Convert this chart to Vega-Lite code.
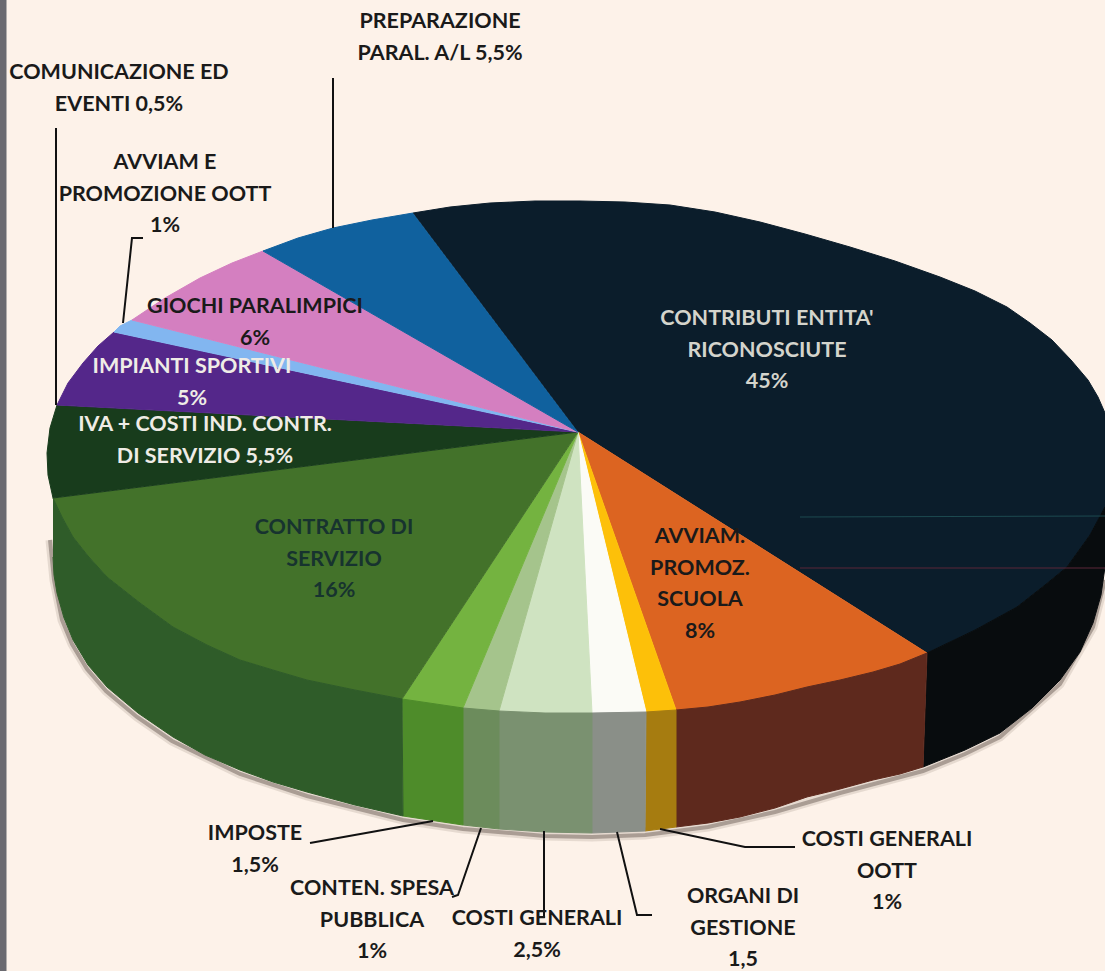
{
"$schema":"https://vega.github.io/schema/vega-lite/v6.json",
"width":1105,"height":971,"padding":0,"autosize":{"type":"none"},
"background":"#fdf2e9",
"view":{"stroke":null},
"datasets":{
"faces":[
{"part":"Bordo","order":1,"x":0,"y":0},{"part":"Bordo","order":2,"x":6,"y":0},{"part":"Bordo","order":3,"x":6,"y":971},{"part":"Bordo","order":4,"x":0,"y":971},
{"part":"Contributi","order":1,"x":578,"y":432},{"part":"Contributi","order":2,"x":413,"y":213},{"part":"Contributi","order":3,"x":450,"y":207},{"part":"Contributi","order":4,"x":490,"y":203},{"part":"Contributi","order":5,"x":535,"y":201},{"part":"Contributi","order":6,"x":580,"y":201},{"part":"Contributi","order":7,"x":625,"y":202},{"part":"Contributi","order":8,"x":670,"y":205},{"part":"Contributi","order":9,"x":715,"y":212},{"part":"Contributi","order":10,"x":760,"y":222},{"part":"Contributi","order":11,"x":805,"y":234},{"part":"Contributi","order":12,"x":850,"y":247},{"part":"Contributi","order":13,"x":895,"y":261},{"part":"Contributi","order":14,"x":940,"y":277},{"part":"Contributi","order":15,"x":975,"y":291},{"part":"Contributi","order":16,"x":1007,"y":307},{"part":"Contributi","order":17,"x":1030,"y":323},{"part":"Contributi","order":18,"x":1052,"y":340},{"part":"Contributi","order":19,"x":1071,"y":360},{"part":"Contributi","order":20,"x":1088,"y":380},{"part":"Contributi","order":21,"x":1098,"y":397},{"part":"Contributi","order":22,"x":1105,"y":413},{"part":"Contributi","order":23,"x":1105,"y":507},{"part":"Contributi","order":24,"x":1090,"y":535},{"part":"Contributi","order":25,"x":1067,"y":567},{"part":"Contributi","order":26,"x":1045,"y":585},{"part":"Contributi","order":27,"x":1017,"y":607},{"part":"Contributi","order":28,"x":975,"y":630},{"part":"Contributi","order":29,"x":927,"y":653},
{"part":"Avviam scuola","order":1,"x":578,"y":432},{"part":"Avviam scuola","order":2,"x":927,"y":653},{"part":"Avviam scuola","order":3,"x":900,"y":664},{"part":"Avviam scuola","order":4,"x":873,"y":672},{"part":"Avviam scuola","order":5,"x":840,"y":680},{"part":"Avviam scuola","order":6,"x":807,"y":687},{"part":"Avviam scuola","order":7,"x":775,"y":695},{"part":"Avviam scuola","order":8,"x":740,"y":702},{"part":"Avviam scuola","order":9,"x":708,"y":707},{"part":"Avviam scuola","order":10,"x":676,"y":710},
{"part":"Costi OOTT","order":1,"x":578,"y":432},{"part":"Costi OOTT","order":2,"x":676,"y":710},{"part":"Costi OOTT","order":3,"x":646,"y":712},
{"part":"Organi","order":1,"x":578,"y":432},{"part":"Organi","order":2,"x":646,"y":712},{"part":"Organi","order":3,"x":592,"y":713},
{"part":"Costi generali","order":1,"x":578,"y":432},{"part":"Costi generali","order":2,"x":592,"y":713},{"part":"Costi generali","order":3,"x":545,"y":713},{"part":"Costi generali","order":4,"x":499,"y":711},
{"part":"Conten","order":1,"x":578,"y":432},{"part":"Conten","order":2,"x":499,"y":711},{"part":"Conten","order":3,"x":463,"y":708},
{"part":"Imposte","order":1,"x":578,"y":432},{"part":"Imposte","order":2,"x":463,"y":708},{"part":"Imposte","order":3,"x":402,"y":699},
{"part":"Contratto","order":1,"x":578,"y":432},{"part":"Contratto","order":2,"x":402,"y":699},{"part":"Contratto","order":3,"x":355,"y":690},{"part":"Contratto","order":4,"x":307,"y":680},{"part":"Contratto","order":5,"x":273,"y":670},{"part":"Contratto","order":6,"x":240,"y":660},{"part":"Contratto","order":7,"x":207,"y":645},{"part":"Contratto","order":8,"x":173,"y":627},{"part":"Contratto","order":9,"x":140,"y":603},{"part":"Contratto","order":10,"x":107,"y":577},{"part":"Contratto","order":11,"x":88,"y":556},{"part":"Contratto","order":12,"x":73,"y":537},{"part":"Contratto","order":13,"x":62,"y":517},{"part":"Contratto","order":14,"x":53,"y":498},
{"part":"IVA","order":1,"x":578,"y":432},{"part":"IVA","order":2,"x":53,"y":498},{"part":"IVA","order":3,"x":48,"y":475},{"part":"IVA","order":4,"x":47,"y":453},{"part":"IVA","order":5,"x":50,"y":428},{"part":"IVA","order":6,"x":57,"y":405},
{"part":"Impianti","order":1,"x":578,"y":432},{"part":"Impianti","order":2,"x":57,"y":405},{"part":"Impianti","order":3,"x":68,"y":383},{"part":"Impianti","order":4,"x":83,"y":363},{"part":"Impianti","order":5,"x":98,"y":346},{"part":"Impianti","order":6,"x":114,"y":332},
{"part":"Avviam OOTT","order":1,"x":578,"y":432},{"part":"Avviam OOTT","order":2,"x":114,"y":332},{"part":"Avviam OOTT","order":3,"x":120,"y":326},{"part":"Avviam OOTT","order":4,"x":132,"y":320},
{"part":"Giochi","order":1,"x":578,"y":432},{"part":"Giochi","order":2,"x":132,"y":320},{"part":"Giochi","order":3,"x":165,"y":298},{"part":"Giochi","order":4,"x":200,"y":278},{"part":"Giochi","order":5,"x":232,"y":263},{"part":"Giochi","order":6,"x":263,"y":251},
{"part":"Preparazione","order":1,"x":578,"y":432},{"part":"Preparazione","order":2,"x":263,"y":251},{"part":"Preparazione","order":3,"x":298,"y":238},{"part":"Preparazione","order":4,"x":333,"y":228},{"part":"Preparazione","order":5,"x":372,"y":220},{"part":"Preparazione","order":6,"x":413,"y":213},
{"part":"Lato contributi","order":1,"x":927,"y":653},{"part":"Lato contributi","order":2,"x":975,"y":630},{"part":"Lato contributi","order":3,"x":1017,"y":607},{"part":"Lato contributi","order":4,"x":1045,"y":585},{"part":"Lato contributi","order":5,"x":1067,"y":567},{"part":"Lato contributi","order":6,"x":1090,"y":535},{"part":"Lato contributi","order":7,"x":1105,"y":507},{"part":"Lato contributi","order":8,"x":1105,"y":567},{"part":"Lato contributi","order":9,"x":1101,"y":595},{"part":"Lato contributi","order":10,"x":1093,"y":623},{"part":"Lato contributi","order":11,"x":1080,"y":652},{"part":"Lato contributi","order":12,"x":1060,"y":680},{"part":"Lato contributi","order":13,"x":1032,"y":708},{"part":"Lato contributi","order":14,"x":1000,"y":733},{"part":"Lato contributi","order":15,"x":965,"y":750},{"part":"Lato contributi","order":16,"x":923,"y":767},
{"part":"Lato avviam","order":1,"x":676,"y":710},{"part":"Lato avviam","order":2,"x":708,"y":707},{"part":"Lato avviam","order":3,"x":740,"y":702},{"part":"Lato avviam","order":4,"x":775,"y":695},{"part":"Lato avviam","order":5,"x":807,"y":687},{"part":"Lato avviam","order":6,"x":840,"y":680},{"part":"Lato avviam","order":7,"x":873,"y":672},{"part":"Lato avviam","order":8,"x":900,"y":664},{"part":"Lato avviam","order":9,"x":927,"y":653},{"part":"Lato avviam","order":10,"x":923,"y":767},{"part":"Lato avviam","order":11,"x":900,"y":774},{"part":"Lato avviam","order":12,"x":873,"y":780},{"part":"Lato avviam","order":13,"x":840,"y":789},{"part":"Lato avviam","order":14,"x":807,"y":797},{"part":"Lato avviam","order":15,"x":775,"y":808},{"part":"Lato avviam","order":16,"x":740,"y":817},{"part":"Lato avviam","order":17,"x":708,"y":823},{"part":"Lato avviam","order":18,"x":676,"y":827},
{"part":"Lato costi OOTT","order":1,"x":646,"y":712},{"part":"Lato costi OOTT","order":2,"x":676,"y":710},{"part":"Lato costi OOTT","order":3,"x":676,"y":827},{"part":"Lato costi OOTT","order":4,"x":645,"y":831},
{"part":"Lato organi","order":1,"x":592,"y":713},{"part":"Lato organi","order":2,"x":646,"y":712},{"part":"Lato organi","order":3,"x":645,"y":831},{"part":"Lato organi","order":4,"x":592,"y":833},
{"part":"Lato costi generali","order":1,"x":499,"y":711},{"part":"Lato costi generali","order":2,"x":545,"y":713},{"part":"Lato costi generali","order":3,"x":592,"y":713},{"part":"Lato costi generali","order":4,"x":592,"y":833},{"part":"Lato costi generali","order":5,"x":545,"y":832},{"part":"Lato costi generali","order":6,"x":499,"y":829},
{"part":"Lato conten","order":1,"x":463,"y":708},{"part":"Lato conten","order":2,"x":499,"y":711},{"part":"Lato conten","order":3,"x":499,"y":829},{"part":"Lato conten","order":4,"x":463,"y":825},
{"part":"Lato imposte","order":1,"x":402,"y":699},{"part":"Lato imposte","order":2,"x":463,"y":708},{"part":"Lato imposte","order":3,"x":463,"y":825},{"part":"Lato imposte","order":4,"x":403,"y":816},
{"part":"Lato contratto","order":1,"x":53,"y":498},{"part":"Lato contratto","order":2,"x":62,"y":517},{"part":"Lato contratto","order":3,"x":73,"y":537},{"part":"Lato contratto","order":4,"x":88,"y":556},{"part":"Lato contratto","order":5,"x":107,"y":577},{"part":"Lato contratto","order":6,"x":140,"y":603},{"part":"Lato contratto","order":7,"x":173,"y":627},{"part":"Lato contratto","order":8,"x":207,"y":645},{"part":"Lato contratto","order":9,"x":240,"y":660},{"part":"Lato contratto","order":10,"x":273,"y":670},{"part":"Lato contratto","order":11,"x":307,"y":680},{"part":"Lato contratto","order":12,"x":355,"y":690},{"part":"Lato contratto","order":13,"x":402,"y":699},{"part":"Lato contratto","order":14,"x":403,"y":816},{"part":"Lato contratto","order":15,"x":355,"y":805},{"part":"Lato contratto","order":16,"x":307,"y":792},{"part":"Lato contratto","order":17,"x":273,"y":782},{"part":"Lato contratto","order":18,"x":240,"y":770},{"part":"Lato contratto","order":19,"x":205,"y":755},{"part":"Lato contratto","order":20,"x":173,"y":737},{"part":"Lato contratto","order":21,"x":138,"y":713},{"part":"Lato contratto","order":22,"x":107,"y":687},{"part":"Lato contratto","order":23,"x":88,"y":665},{"part":"Lato contratto","order":24,"x":73,"y":640},{"part":"Lato contratto","order":25,"x":64,"y":618},{"part":"Lato contratto","order":26,"x":57,"y":593},{"part":"Lato contratto","order":27,"x":54,"y":575},{"part":"Lato contratto","order":28,"x":53,"y":557}
],
"shadow":[
{"order":1,"x":50,"y":540},{"order":2,"x":54,"y":580},{"order":3,"x":62,"y":620},{"order":4,"x":72,"y":644},{"order":5,"x":87,"y":669},{"order":6,"x":106,"y":691},{"order":7,"x":137,"y":717},{"order":8,"x":172,"y":741},{"order":9,"x":240,"y":774},{"order":10,"x":307,"y":796},{"order":11,"x":403,"y":820},{"order":12,"x":463,"y":829},{"order":13,"x":545,"y":836},{"order":14,"x":592,"y":837},{"order":15,"x":645,"y":835},{"order":16,"x":708,"y":827},{"order":17,"x":775,"y":812},{"order":18,"x":840,"y":793},{"order":19,"x":923,"y":771},{"order":20,"x":965,"y":754},{"order":21,"x":1000,"y":737},{"order":22,"x":1060,"y":684},{"order":23,"x":1093,"y":627},{"order":24,"x":1105,"y":580}
],
"leaders":[
{"id":"prep","order":1,"x":333,"y":78},{"id":"prep","order":2,"x":333,"y":228},
{"id":"com","order":1,"x":56,"y":128},{"id":"com","order":2,"x":56,"y":405},
{"id":"avv","order":1,"x":143,"y":238},{"id":"avv","order":2,"x":132,"y":238},{"id":"avv","order":3,"x":123,"y":323},
{"id":"imp","order":1,"x":310,"y":843},{"id":"imp","order":2,"x":433,"y":821},
{"id":"con","order":1,"x":452,"y":897},{"id":"con","order":2,"x":458,"y":895},{"id":"con","order":3,"x":481,"y":828},
{"id":"cos","order":1,"x":544,"y":831},{"id":"cos","order":2,"x":544,"y":918},
{"id":"org","order":1,"x":617,"y":832},{"id":"org","order":2,"x":637,"y":915},{"id":"org","order":3,"x":652,"y":915},
{"id":"oott","order":1,"x":660,"y":829},{"id":"oott","order":2,"x":745,"y":847},{"id":"oott","order":3,"x":795,"y":847}
],
"streaks":[
{"id":"teal","order":1,"x":800,"y":517},{"id":"teal","order":2,"x":1105,"y":516},
{"id":"red","order":1,"x":800,"y":568},{"id":"red","order":2,"x":1105,"y":568}
],
"labels":[
{"label":"PREPARAZIONE\nPARAL. A/L 5,5%","x":440,"y":22,"tone":"nero"},
{"label":"COMUNICAZIONE ED\nEVENTI 0,5%","x":119,"y":73,"tone":"nero"},
{"label":"AVVIAM E\nPROMOZIONE OOTT\n1%","x":165,"y":163,"tone":"nero"},
{"label":"GIOCHI PARALIMPICI\n6%","x":255,"y":307,"tone":"nero"},
{"label":"IMPIANTI SPORTIVI\n5%","x":192,"y":367,"tone":"chiaro"},
{"label":"IVA + COSTI IND. CONTR.\nDI SERVIZIO 5,5%","x":205,"y":425,"tone":"chiaro"},
{"label":"CONTRIBUTI ENTITA'\nRICONOSCIUTE\n45%","x":767,"y":319,"tone":"grigio"},
{"label":"CONTRATTO DI\nSERVIZIO\n16%","x":334,"y":528,"tone":"scuro"},
{"label":"AVVIAM.\nPROMOZ.\nSCUOLA\n8%","x":700,"y":537,"tone":"nero"},
{"label":"IMPOSTE\n1,5%","x":255,"y":834,"tone":"nero"},
{"label":"CONTEN. SPESA\nPUBBLICA\n1%","x":372,"y":889,"tone":"nero"},
{"label":"COSTI GENERALI\n2,5%","x":537,"y":919,"tone":"nero"},
{"label":"ORGANI DI\nGESTIONE\n1,5","x":743,"y":897,"tone":"nero"},
{"label":"COSTI GENERALI\nOOTT\n1%","x":887,"y":840,"tone":"nero"}
]
},
"encoding":{
  "x":{"field":"x","type":"quantitative","scale":{"domain":[0,1105]},"axis":null},
  "y":{"field":"y","type":"quantitative","scale":{"domain":[971,0]},"axis":null}
},
"layer":[
{"data":{"name":"shadow"},
 "mark":{"type":"line","color":"#4a3a30","strokeWidth":9,"opacity":0.13,"clip":true},
 "encoding":{"order":{"field":"order","type":"quantitative"}}},
{"data":{"name":"shadow"},
 "mark":{"type":"line","color":"#3a2c24","strokeWidth":4,"opacity":0.35,"clip":true},
 "encoding":{"order":{"field":"order","type":"quantitative"}}},
{"data":{"name":"faces"},
 "mark":{"type":"line","strokeWidth":1,"clip":true,"strokeJoin":"round"},
 "encoding":{
  "order":{"field":"order","type":"quantitative"},
  "fill":{"field":"part","type":"nominal","legend":null,"scale":{"domain":["Bordo","Contributi","Avviam scuola","Costi OOTT","Organi","Costi generali","Conten","Imposte","Contratto","IVA","Impianti","Avviam OOTT","Giochi","Preparazione","Lato contributi","Lato avviam","Lato costi OOTT","Lato organi","Lato costi generali","Lato conten","Lato imposte","Lato contratto"],"range":["#6b6a70","#0b1d2b","#dc6421","#fdc009","#fbfbf6","#cfe3c1","#a5c48c","#74b340","#43722a","#183c1c","#54278a","#82b6f0","#d47fc0","#10619e","#080c0e","#5e291d","#a67c10","#8a8f88","#7a9170","#6c8c5c","#4e8c2a","#2f5c29"]}},
  "stroke":{"field":"part","type":"nominal","legend":null,"scale":{"domain":["Bordo","Contributi","Avviam scuola","Costi OOTT","Organi","Costi generali","Conten","Imposte","Contratto","IVA","Impianti","Avviam OOTT","Giochi","Preparazione","Lato contributi","Lato avviam","Lato costi OOTT","Lato organi","Lato costi generali","Lato conten","Lato imposte","Lato contratto"],"range":["#6b6a70","#0b1d2b","#dc6421","#fdc009","#fbfbf6","#cfe3c1","#a5c48c","#74b340","#43722a","#183c1c","#54278a","#82b6f0","#d47fc0","#10619e","#080c0e","#5e291d","#a67c10","#8a8f88","#7a9170","#6c8c5c","#4e8c2a","#2f5c29"]}}
 }},
{"data":{"name":"streaks"},
 "mark":{"type":"line","strokeWidth":1,"clip":true},
 "encoding":{
  "order":{"field":"order","type":"quantitative"},
  "color":{"field":"id","type":"nominal","legend":null,"scale":{"domain":["teal","red"],"range":["#1d4a50","#5a2638"]}}
 }},
{"data":{"name":"leaders"},
 "mark":{"type":"line","color":"#111111","strokeWidth":2},
 "encoding":{
  "detail":{"field":"id"},
  "order":{"field":"order","type":"quantitative"}
 }},
{"data":{"name":"labels"},
 "mark":{"type":"text","font":"Lato","fontWeight":"bold","fontSize":21.5,"lineHeight":31.5,"lineBreak":"\n","align":"center","baseline":"middle"},
 "encoding":{
  "text":{"field":"label"},
  "color":{"field":"tone","type":"nominal","legend":null,"scale":{"domain":["nero","chiaro","grigio","scuro"],"range":["#1a1a1a","#efece6","#d4d4cc","#17332f"]}}
 }}
],
"resolve":{"scale":{"color":"independent"}}
}
